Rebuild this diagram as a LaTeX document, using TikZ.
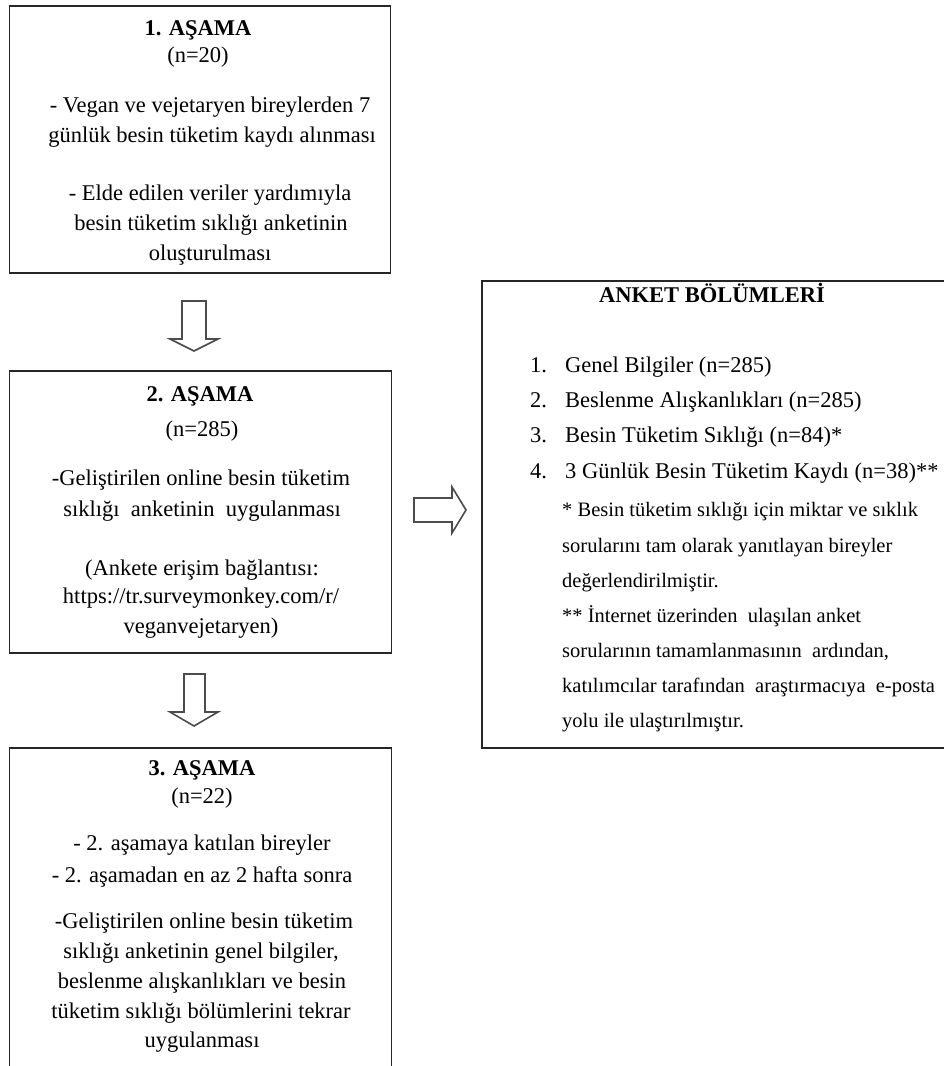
\documentclass[tikz,border=0pt]{standalone}
\usepackage{fontspec}
\setmainfont{Liberation Serif}
\newcommand{\dsp}{\ \hspace{0.25em}}
\begin{document}
\begin{tikzpicture}[x=1pt,y=-1pt,
  box/.style={draw=black!85,line width=1.8pt},
  barrow/.style={draw=black!70,line width=1.6pt,line join=miter,fill=white},
  ttl/.style={anchor=base,font=\fontsize{22.5}{27}\selectfont\bfseries,inner sep=0pt},
  txt/.style={anchor=base,font=\fontsize{22.5}{27}\selectfont,inner sep=0pt},
  itm/.style={anchor=base west,font=\fontsize{22.5}{27}\selectfont,inner sep=0pt},
  note/.style={anchor=base west,font=\fontsize{20.5}{24}\selectfont,inner sep=0pt}]
\useasboundingbox (0,0) rectangle (944,1066);
\clip (0,0) rectangle (944,1066);
\fill[white] (0,0) rectangle (944,1066);

% boxes
\draw[box] (9.5,6) rectangle (390.5,273);
\draw[box] (9.5,371) rectangle (391.5,653);
\draw[box] (9.5,748) rectangle (391.5,1090);
\draw[box] (482,281) rectangle (970,748);

% block arrows
\draw[barrow] (182,301) -- (206,301) -- (206,339) -- (218,339) -- (194,351) -- (170,339) -- (182,339) -- cycle;
\draw[barrow] (184,674) -- (205,674) -- (205,712) -- (218,712) -- (194,726) -- (170,712) -- (184,712) -- cycle;
\draw[barrow] (414,498) -- (452,498) -- (452,487) -- (466,510) -- (452,533) -- (452,522) -- (414,522) -- cycle;

% box 1
\node[ttl] (t1a) at (198,35) {1. AŞAMA};
\node[txt] (t1b) at (198,62) {(n=20)};
\node[txt] (t1c) at (210,112) {- Vegan ve vejetaryen bireylerden 7};
\node[txt] (t1d) at (212,142) {günlük besin tüketim kaydı alınması};
\node[txt] (t1e) at (210,200) {- Elde edilen veriler yardımıyla};
\node[txt] (t1f) at (211,230) {besin tüketim sıklığı anketinin};
\node[txt] (t1g) at (210,260) {oluşturulması};

% box 2
\node[ttl] (t2a) at (200,401) {2. AŞAMA};
\node[txt] (t2b) at (202,436) {(n=285)};
\node[txt] (t2c) at (201,485) {-Geliştirilen online besin tüketim};
\node[txt] (t2d) at (202,516) {sıklığı\dsp anketinin\dsp uygulanması};
\node[txt] (t2e) at (202,575) {(Ankete erişim bağlantısı:};
\node[txt] (t2f) at (201,603) {https://tr.surveymonkey.com/r/};
\node[txt] (t2g) at (201,633) {veganvejetaryen)};

% box 3
\node[ttl] (t3a) at (202,775) {3. AŞAMA};
\node[txt] (t3b) at (202,803) {(n=22)};
\node[txt] (t3c) at (202,850) {- 2. aşamaya katılan bireyler};
\node[txt] (t3d) at (202,882) {- 2. aşamadan en az 2 hafta sonra};
\node[txt] (t3e) at (204,928) {-Geliştirilen online besin tüketim};
\node[txt] (t3f) at (201,958) {sıklığı anketinin genel bilgiler,};
\node[txt] (t3g) at (202,988) {beslenme alışkanlıkları ve besin};
\node[txt] (t3h) at (201,1018) {tüketim sıklığı bölümlerini tekrar};
\node[txt] (t3i) at (202,1047) {uygulanması};

% right box
\node[ttl] (r0) at (712,302) {ANKET BÖLÜMLERİ};
\node[itm] (n1) at (530,372) {1.};
\node[itm] (r1) at (565,372) {Genel Bilgiler (n=285)};
\node[itm] (n2) at (530,407) {2.};
\node[itm] (r2) at (565,407) {Beslenme Alışkanlıkları (n=285)};
\node[itm] (n3) at (530,442) {3.};
\node[itm] (r3) at (565,442) {Besin Tüketim Sıklığı (n=84)*};
\node[itm] (n4) at (530,478) {4.};
\node[itm] (r4) at (565,478) {3 Günlük Besin Tüketim Kaydı (n=38)**};
\node[note] (s1) at (562,516) {* Besin tüketim sıklığı için miktar ve sıklık};
\node[note] (s2) at (562,552) {sorularını tam olarak yanıtlayan bireyler};
\node[note] (s3) at (562,587) {değerlendirilmiştir.};
\node[note] (s4) at (562,622) {** İnternet üzerinden\dsp ulaşılan anket};
\node[note] (s5) at (562,657) {sorularının tamamlanmasının\dsp ardından,};
\node[note] (s6) at (562,692) {katılımcılar tarafından\dsp araştırmacıya\dsp e-posta};
\node[note] (s7) at (562,727) {yolu ile ulaştırılmıştır.};
\end{tikzpicture}
\end{document}
